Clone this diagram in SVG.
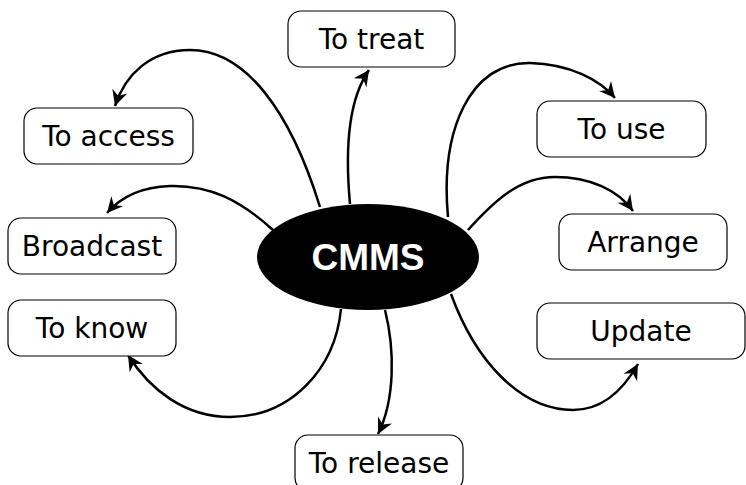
<svg xmlns="http://www.w3.org/2000/svg" width="746" height="485" viewBox="0 0 746 485">
<defs>
<style>
.box{fill:#fff;stroke:#000;stroke-width:1.2}
.lbl{font-family:"DejaVu Sans",sans-serif;font-size:28px;fill:#000;text-anchor:middle}
.con{fill:none;stroke:#000;stroke-width:2.5;marker-end:url(#ah)}
</style>
<marker id="ah" markerUnits="userSpaceOnUse" markerWidth="20" markerHeight="20" viewBox="-16 -9 18 18" refX="0" refY="0" orient="auto">
<path d="M-14,-7 L0,0 L-14,7 L-9.5,0 z" fill="#000"/>
</marker>
</defs>
<rect width="746" height="485" fill="#fff"/>
<g id="connectors">
<path class="con" d="M320,207 C290,110 245,50 190,50 C150,50 125,75 115,106"/>
<path class="con" d="M273,230 C240,200 210,185 170,186 C140,187 120,198 107,213"/>
<path class="con" d="M341,309 C335,370 290,417 230,417 C185,417 150,390 128,355"/>
<path class="con" d="M385,310 C395,350 395,400 378,434"/>
<path class="con" d="M350,204 C345,150 348,100 369,70"/>
<path class="con" d="M448,217 C440,130 470,62 530,63 C570,64 600,80 615,98"/>
<path class="con" d="M468,230 C495,200 520,177 555,177 C590,177 618,190 633,211"/>
<path class="con" d="M451,294 C475,360 520,410 573,410 C600,410 622,392 638,364"/>
</g>
<g id="cmms">
<ellipse cx="368" cy="257" rx="111" ry="53" fill="#000"/>
<text x="368" y="270" font-family="'Liberation Sans',Arial,sans-serif" font-weight="bold" font-size="37" fill="#fff" text-anchor="middle">CMMS</text>
</g>
<g id="to-treat"><rect class="box" x="288" y="11" width="167" height="56" rx="13"/><text class="lbl" x="371.5" y="49">To treat</text></g>
<g id="to-access"><rect class="box" x="24" y="108" width="169" height="56" rx="13"/><text class="lbl" x="108.5" y="146">To access</text></g>
<g id="to-use"><rect class="box" x="537" y="101" width="169" height="56" rx="13"/><text class="lbl" x="621.5" y="139">To use</text></g>
<g id="broadcast"><rect class="box" x="8" y="218" width="168" height="56" rx="13"/><text class="lbl" x="92" y="256">Broadcast</text></g>
<g id="arrange"><rect class="box" x="559" y="214" width="168" height="56" rx="13"/><text class="lbl" x="643" y="252">Arrange</text></g>
<g id="to-know"><rect class="box" x="8" y="300" width="168" height="56" rx="13"/><text class="lbl" x="92" y="338">To know</text></g>
<g id="update"><rect class="box" x="537" y="303" width="208" height="56" rx="13"/><text class="lbl" x="641" y="341">Update</text></g>
<g id="to-release"><rect class="box" x="295" y="435" width="168" height="56" rx="13"/><text class="lbl" x="379" y="473">To release</text></g>
</svg>
